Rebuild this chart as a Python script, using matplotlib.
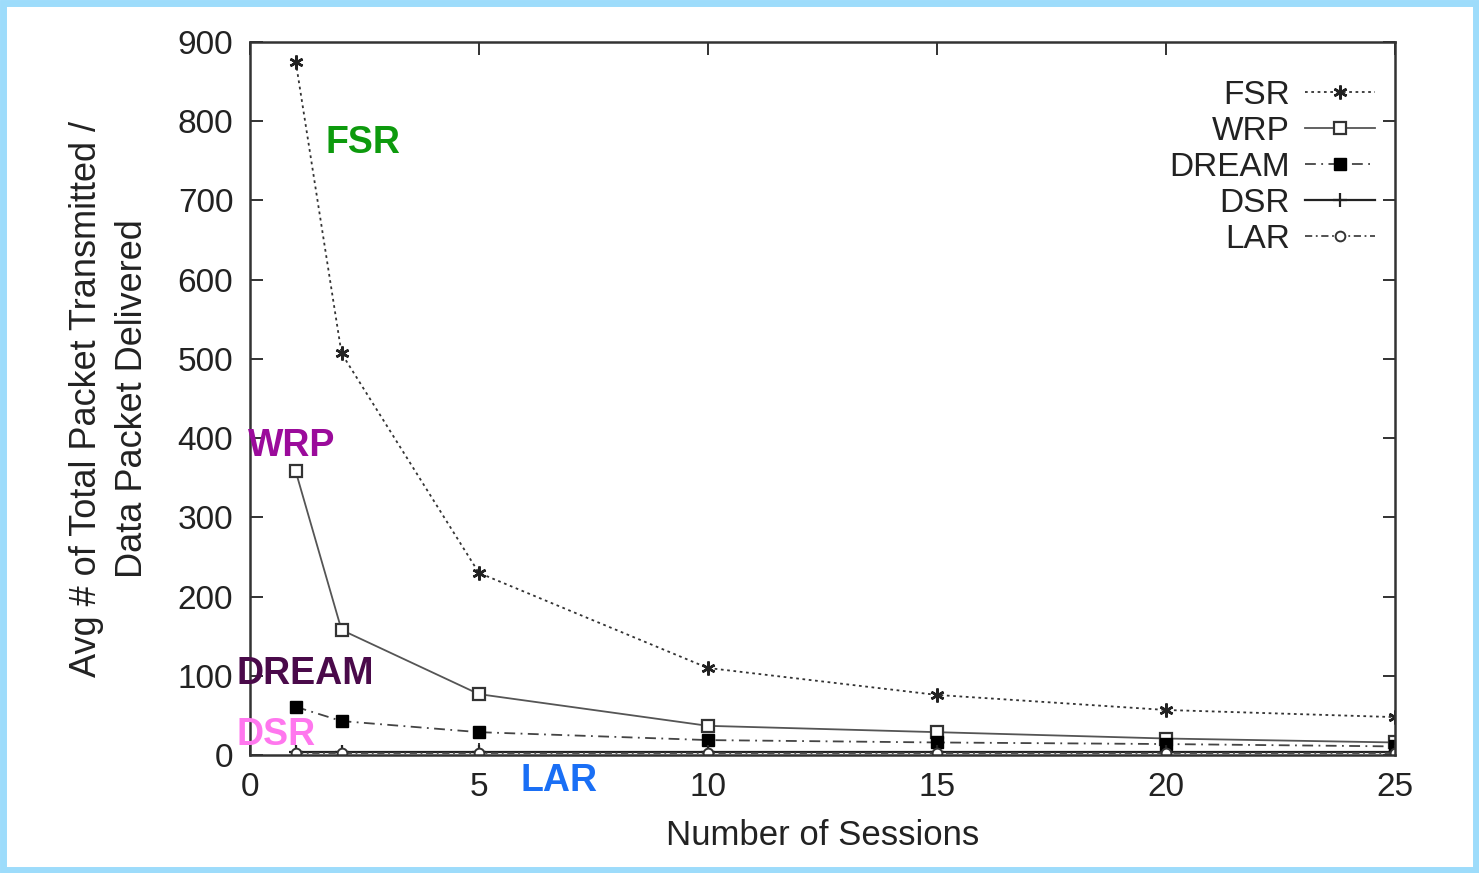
import numpy as np
import matplotlib
matplotlib.use("Agg")
import matplotlib.pyplot as plt
from matplotlib.patches import Rectangle

plt.rcParams['font.family'] = ['Liberation Sans', 'DejaVu Sans']

# Number of sessions and the overhead ratio per protocol
sessions = [1, 2, 5, 10, 15, 20, 25]
fsr = [875, 507, 230, 110, 76, 57, 48]
wrp = [358, 158, 77, 37, 29, 21, 16]
dream = [61, 43, 29, 19, 16, 14, 11]
dsr = [4, 4, 4, 4, 4, 4, 4]
lar = [3, 3, 3, 3, 3, 3, 3]

x_ticks = [0, 5, 10, 15, 20, 25]
y_ticks = [0, 100, 200, 300, 400, 500, 600, 700, 800, 900]

fig = plt.figure(figsize=(14.79, 8.73), dpi=100)
ax = fig.add_axes([0.169, 0.135, 0.774, 0.817])

# thin light-blue frame round the whole figure
fig.patches.append(Rectangle((0.002, 0.003), 0.996, 0.994, transform=fig.transFigure,
                             fill=False, edgecolor='#9ddcfb', linewidth=5))

ax.plot(sessions, fsr, color='#333333', lw=1.3, ls=(0, (1.5, 2.0)),
        marker=(6, 2, 0), ms=10, mew=1.8, mec='#222222', label='FSR')
ax.plot(sessions, wrp, color='#555555', lw=1.3, ls='-',
        marker='s', ms=9, mfc='white', mec='#333333', mew=1.6, label='WRP')
ax.plot(sessions, dream, color='#444444', lw=1.3, ls=(0, (6, 3, 1, 3)),
        marker='s', ms=8, mfc='black', mec='black', label='DREAM')
ax.plot(sessions, dsr, color='#222222', lw=1.6, ls='-',
        marker='+', ms=10, mew=1.6, label='DSR')
ax.plot(sessions, lar, color='#444444', lw=1.3, ls=(0, (4, 2, 1, 2)),
        marker='o', ms=7, mfc='white', mec='#333333', mew=1.4, label='LAR')

ax.set_xlim(0, 25)
ax.set_ylim(0, 900)
ax.set_xticks(x_ticks)
ax.set_yticks(y_ticks)
ax.tick_params(direction='in', length=9, width=1.3, top=True, right=True,
               labelsize=24, colors='#222222', pad=12)
for s in ax.spines.values():
    s.set_linewidth(1.8)
    s.set_color('#333333')

ax.set_xlabel('Number of Sessions', fontsize=25, color='#222222', labelpad=12)
ax.set_ylabel('Avg # of Total Packet Transmitted /\nData Packet Delivered',
              fontsize=26, color='#222222', labelpad=20, linespacing=1.4)

leg = ax.legend(loc='upper right', frameon=False, markerfirst=False, fontsize=24,
                handlelength=2.1, handletextpad=0.45, labelspacing=0.15,
                borderaxespad=0.3, bbox_to_anchor=(1.003, 0.98))
for t in leg.get_texts():
    t.set_color('#222222')

# protocol names written next to their curves
labels = ['FSR', 'WRP', 'DREAM', 'DSR', 'LAR']
label_x = [1.65, -0.05, -0.3, -0.3, 5.9]
label_y = [772, 390, 102, 26, -33]
label_colors = ['#0d9a0d', '#9b0b9b', '#4a0a4a', '#ff77ee', '#1a6ff5']
for name, lx, ly, c in zip(labels, label_x, label_y, label_colors):
    ax.text(lx, ly, name, color=c, fontsize=27, fontweight='bold',
            va='center', ha='left', clip_on=False, zorder=5)

fig.savefig('out.png', dpi=100)
